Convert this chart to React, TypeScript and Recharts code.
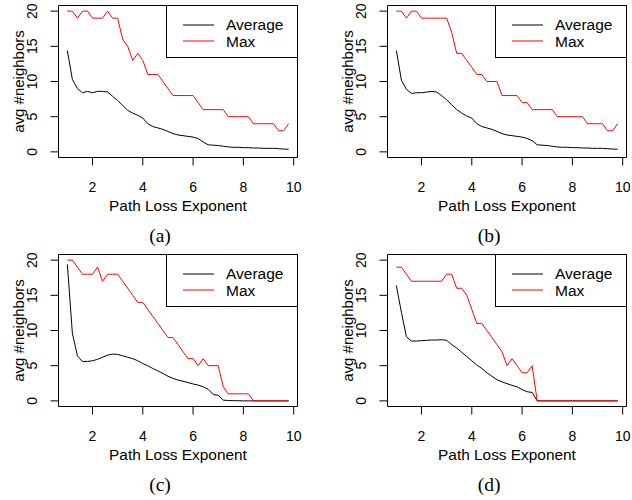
import { LineChart, Line, XAxis, YAxis, ReferenceArea, Legend, Label } from 'recharts'

// path loss exponent, sampled every 0.2
const pathLoss = [
  1.0, 1.2, 1.4, 1.6, 1.8, 2.0, 2.2, 2.4, 2.6, 2.8,
  3.0, 3.2, 3.4, 3.6, 3.8, 4.0, 4.2, 4.4, 4.6, 4.8,
  5.0, 5.2, 5.4, 5.6, 5.8, 6.0, 6.2, 6.4, 6.6, 6.8,
  7.0, 7.2, 7.4, 7.6, 7.8, 8.0, 8.2, 8.4, 8.6, 8.8,
  9.0, 9.2, 9.4, 9.6, 9.8,
]

const avgA = [
  14.4, 10.3, 9.0, 8.4, 8.6, 8.4, 8.6, 8.6, 8.5, 7.9,
  7.3, 6.6, 5.9, 5.5, 5.2, 4.8, 4.0, 3.6, 3.4, 3.2,
  2.9, 2.6, 2.4, 2.3, 2.2, 2.1, 1.9, 1.4, 1.0, 0.95,
  0.9, 0.8, 0.7, 0.65, 0.65, 0.6, 0.6, 0.55, 0.55, 0.5,
  0.5, 0.5, 0.45, 0.4, 0.38,
]
const maxA = [
  20, 20, 19, 20, 20, 19, 19, 19, 20, 19,
  19, 16, 15, 13, 14, 13, 11, 11, 11, 10,
  9, 8, 8, 8, 8, 8, 7, 6, 6, 6,
  6, 6, 5, 5, 5, 5, 5, 4, 4, 4,
  4, 4, 3, 3, 4,
]

const avgB = [
  14.4, 10.2, 8.9, 8.3, 8.4, 8.4, 8.5, 8.6, 8.5, 8.0,
  7.4, 6.7, 6.0, 5.5, 5.1, 4.8, 4.0, 3.6, 3.4, 3.2,
  2.9, 2.6, 2.4, 2.3, 2.2, 2.1, 1.9, 1.6, 1.0, 0.95,
  0.9, 0.8, 0.7, 0.65, 0.65, 0.6, 0.6, 0.55, 0.55, 0.5,
  0.5, 0.5, 0.45, 0.4, 0.38,
]
const maxB = [
  20, 20, 19, 20, 20, 19, 19, 19, 19, 19,
  19, 17, 14, 14, 13, 12, 11, 11, 10, 10,
  10, 8, 8, 8, 8, 7, 7, 6, 6, 6,
  6, 6, 5, 5, 5, 5, 5, 5, 4, 4,
  4, 4, 3, 3, 4,
]

const avgC = [
  19.4, 9.6, 6.4, 5.6, 5.6, 5.7, 5.9, 6.2, 6.5, 6.65,
  6.6, 6.4, 6.2, 6.0, 5.7, 5.3, 5.0, 4.6, 4.25, 3.9,
  3.5, 3.2, 2.95, 2.8, 2.6, 2.4, 2.25, 2.0, 1.65, 0.9,
  0.8, 0.1, 0.05, 0.03, 0.02, 0, 0, 0, 0, 0,
  0, 0, 0, 0, 0,
]
const maxC = [
  20, 20, 19, 18, 18, 18, 19, 17, 18, 18,
  18, 17, 16, 15, 14, 14, 13, 12, 11, 10,
  9, 9, 8, 7, 6, 6, 5, 6, 5, 5,
  5, 2, 1, 1, 1, 1, 1, 0, 0, 0,
  0, 0, 0, 0, 0,
]

const avgD = [
  16.4, 12.6, 9.1, 8.5, 8.5, 8.55, 8.6, 8.65, 8.65, 8.7,
  8.6, 8.0, 7.5, 6.9, 6.3, 5.7, 5.1, 4.6, 4.0, 3.5,
  3.0, 2.7, 2.45, 2.2, 2.0, 1.6, 1.3, 1.2, 0, 0,
  0, 0, 0, 0, 0, 0, 0, 0, 0, 0,
  0, 0, 0, 0, 0,
]
const maxD = [
  19, 19, 18, 17, 17, 17, 17, 17, 17, 17,
  18, 18, 16, 16, 15, 13, 11, 11, 10, 9,
  8, 7, 5, 6, 5, 4, 4, 5, 0, 0,
  0, 0, 0, 0, 0, 0, 0, 0, 0, 0,
  0, 0, 0, 0, 0,
]

const xTicks = [2, 4, 6, 8, 10]
const yTicks = [0, 5, 10, 15, 20]

// R pads the data range by 4% on both sides
const X_DOMAIN: [number, number] = [0.648, 10.152]
const Y_DOMAIN: [number, number] = [-0.8, 20.8]

const CHART_W = 303
const CHART_H = 250
const PLOT_LEFT = 58.5
const PLOT_TOP = 5.5
const PLOT_W = 239
const PLOT_H = 152

const SANS = '"Liberation Sans", Arial, Helvetica, sans-serif'
const SERIF = '"Liberation Serif", "Times New Roman", serif'
const RED = '#ff0000'

const XTick = (props: any) => (
  <text x={props.x} y={192} textAnchor="middle" fontSize={14} fontFamily={SANS} fill="#000">
    {props.payload.value}
  </text>
)

const YTick = (props: any) => (
  <text
    x={37}
    y={props.y}
    transform={`rotate(-90 37 ${props.y})`}
    textAnchor="middle"
    fontSize={14}
    fontFamily={SANS}
    fill="#000"
  >
    {props.payload.value}
  </text>
)

function LegendBox() {
  return (
    <svg width={132} height={53} style={{ display: 'block' }}>
      <rect x={0.5} y={0.5} width={131} height={52} fill="#fff" stroke="#000" />
      <line x1={17} x2={48} y1={20} y2={20} stroke="#000" />
      <text x={60} y={25.3} fontSize={15.5} fontFamily={SANS} fill="#000">
        Average
      </text>
      <line x1={17} x2={48} y1={36} y2={36} stroke={RED} />
      <text x={60} y={42.2} fontSize={15.5} fontFamily={SANS} fill="#000">
        Max
      </text>
    </svg>
  )
}

interface PanelProps {
  avg: number[]
  max: number[]
  tag: string
  left: number
  top: number
}

function Panel({ avg, max, tag, left, top }: PanelProps) {
  const rows = pathLoss.map((x, i) => ({ x, avg: avg[i], max: max[i] }))

  return (
    <div style={{ position: 'absolute', left, top }}>
      <LineChart
        width={CHART_W}
        height={CHART_H}
        data={rows}
        margin={{ top: PLOT_TOP, right: CHART_W - PLOT_LEFT - PLOT_W, bottom: 0, left: 0 }}
      >
        <XAxis
          dataKey="x"
          type="number"
          domain={X_DOMAIN}
          ticks={xTicks}
          interval={0}
          allowDataOverflow
          height={CHART_H - PLOT_TOP - PLOT_H}
          axisLine={false}
          tickLine={{ stroke: '#000' }}
          tickSize={8}
          tick={XTick}
        >
          <Label
            content={() => (
              <g>
                <text x={PLOT_LEFT + PLOT_W / 2} y={211} textAnchor="middle" fontSize={15.4} fontFamily={SANS} fill="#000">
                  Path Loss Exponent
                </text>
                <text x={160} y={242} textAnchor="middle" fontSize={19.5} fontFamily={SERIF} fill="#000">
                  ({tag})
                </text>
              </g>
            )}
          />
        </XAxis>
        <YAxis
          type="number"
          domain={Y_DOMAIN}
          ticks={yTicks}
          interval={0}
          allowDataOverflow
          width={PLOT_LEFT}
          axisLine={false}
          tickLine={{ stroke: '#000' }}
          tickSize={8}
          tick={YTick}
        >
          <Label
            content={() => (
              <text
                x={24}
                y={PLOT_TOP + PLOT_H / 2}
                transform={`rotate(-90 24 ${PLOT_TOP + PLOT_H / 2})`}
                textAnchor="middle"
                fontSize={15}
                fontFamily={SANS}
                fill="#000"
              >
                avg #neighbors
              </text>
            )}
          />
        </YAxis>
        <ReferenceArea
          x1={X_DOMAIN[0]}
          x2={X_DOMAIN[1]}
          y1={Y_DOMAIN[0]}
          y2={Y_DOMAIN[1]}
          fill="none"
          stroke="#000"
          strokeWidth={1}
          ifOverflow="visible"
        />
        <Line type="linear" dataKey="avg" stroke="#000" strokeWidth={1} dot={false} isAnimationActive={false} />
        <Line type="linear" dataKey="max" stroke={RED} strokeWidth={1} dot={false} isAnimationActive={false} />
        <Legend
          layout="horizontal"
          verticalAlign="middle"
          align="center"
          content={() => <LegendBox />}
          wrapperStyle={{ left: 166, top: 5, width: 132, height: 53 }}
        />
      </LineChart>
    </div>
  )
}

export default function App() {
  return (
    <div
      style={{
        position: 'absolute',
        left: 0,
        top: 0,
        width: 632,
        height: 500,
        background: '#fff',
        overflow: 'hidden',
      }}
    >
      <Panel avg={avgA} max={maxA} tag="a" left={0} top={0} />
      <Panel avg={avgB} max={maxB} tag="b" left={329} top={0} />
      <Panel avg={avgC} max={maxC} tag="c" left={0} top={249} />
      <Panel avg={avgD} max={maxD} tag="d" left={329} top={249} />
    </div>
  )
}
